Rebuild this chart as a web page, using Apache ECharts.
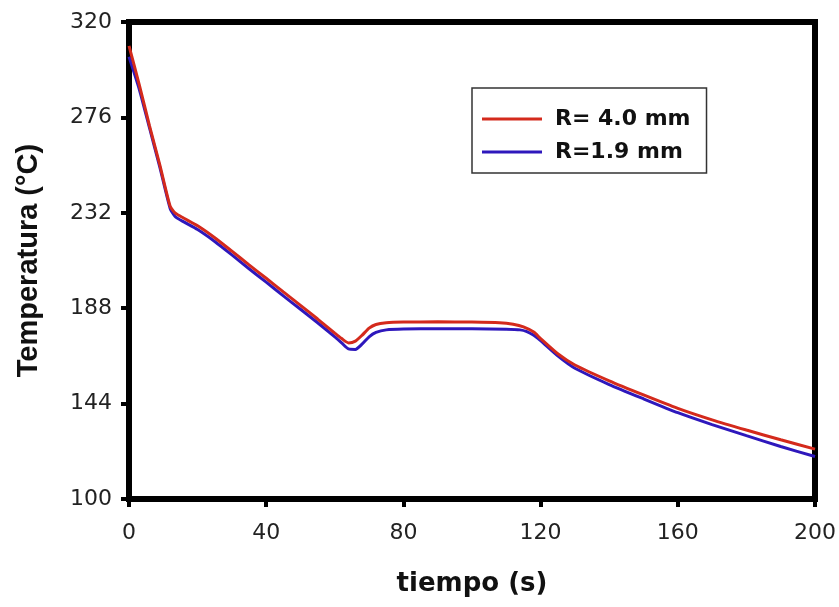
<!DOCTYPE html>
<html>
<head>
<meta charset="utf-8">
<script src="https://cdn.jsdelivr.net/npm/echarts@6/dist/echarts.min.js"></script>
<style>html,body{margin:0;padding:0;background:#fff}#c{width:839px;height:607px}</style>
</head>
<body>
<div id="c"></div>
<script>
const xTicks = [0, 40, 80, 120, 160, 200];
const yTicks = [100, 144, 188, 232, 276, 320];
const seriesNames = ['R= 4.0 mm', 'R=1.9 mm'];
const redX = [0,3,6,9,12,13.5,16,20,25,30,35,40,45,50,55,60,62,64,66,68,70,72,75,80,90,100,108,112,115,118,120,125,130,140,150,160,170,180,190,200];
const redY = [309,291,272,254,235,231.8,229.5,226,220.5,214.3,208,201.8,195.5,189.3,183,176.5,174,172,172.8,175.6,178.8,180.5,181.3,181.6,181.7,181.6,181.3,180.6,179.4,177,174,167,161.8,154.5,148,141.8,136.5,131.8,127.3,123];
const blueX = [0,3,6,9,12,13.5,16,20,25,30,35,40,45,50,55,60,62,64,66,68,70,72,75,80,90,100,110,114,116,118,120,125,130,140,150,160,170,180,190,200];
const blueY = [304,289,271,253,234,230.2,227.8,224.3,218.8,212.6,206.2,200,193.7,187.5,181.3,174.8,172,169.2,169,171.5,174.8,176.8,178,178.4,178.5,178.5,178.3,178,177.2,175.5,173,166,160.3,152.8,146.2,139.8,134.3,129.2,124.2,119.6];

const zip = (xs, ys) => xs.map((x, i) => [x, ys[i]]);
const chart = echarts.init(document.getElementById('c'));
const wide = '"DejaVu Sans", Verdana, sans-serif';
const arial = 'Arial, "Liberation Sans", sans-serif';
chart.setOption({
  animation: false,
  backgroundColor: '#fff',
  grid: { left: 129, top: 22, width: 686, height: 477, show: true, borderColor: '#000', borderWidth: 6 },
  xAxis: {
    type: 'value', min: xTicks[0], max: xTicks[xTicks.length-1], interval: 40,
    name: 'tiempo (s)', nameLocation: 'middle', nameGap: 72,
    nameTextStyle: { fontFamily: wide, fontWeight: 'bold', fontSize: 26, color: '#111' },
    axisLine: { show: true, lineStyle: { color: '#000', width: 6 } },
    axisTick: { show: true, inside: false, length: 8, lineStyle: { color: '#000', width: 4 } },
    axisLabel: { show: true, margin: 23, fontFamily: wide, fontSize: 22, color: '#222', formatter: v => xTicks.includes(v) ? String(v) : '' },
    splitLine: { show: false }
  },
  yAxis: {
    type: 'value', min: yTicks[0], max: yTicks[yTicks.length-1], interval: 44,
    name: 'Temperatura (°C)', nameLocation: 'middle', nameGap: 86,
    nameTextStyle: { fontFamily: arial, fontWeight: 'bold', fontSize: 29, color: '#111' },
    axisLine: { show: true, lineStyle: { color: '#000', width: 6 } },
    axisTick: { show: true, inside: false, length: 8, lineStyle: { color: '#000', width: 4 } },
    axisLabel: { show: true, margin: 17, fontFamily: wide, fontSize: 22, color: '#222', formatter: v => yTicks.includes(v) ? String(v) : '' },
    splitLine: { show: false }
  },
  legend: {
    left: 472, top: 88, orient: 'vertical',
    data: seriesNames,
    icon: 'rect', itemWidth: 60, itemHeight: 3, itemGap: 11,
    padding: [20, 16, 10, 10],
    borderColor: '#333', borderWidth: 1.5,
    textStyle: { fontFamily: wide, fontWeight: 'bold', fontSize: 22, color: '#111', padding: [0, 0, 0, 8] }
  },
  series: [
    { name: seriesNames[0], type: 'line', data: zip(redX, redY), showSymbol: false, smooth: 0.2,
      lineStyle: { color: '#d42a1c', width: 3 }, itemStyle: { color: '#d42a1c' }, z: 3 },
    { name: seriesNames[1], type: 'line', data: zip(blueX, blueY), showSymbol: false, smooth: 0.2,
      lineStyle: { color: '#2e18bc', width: 3 }, itemStyle: { color: '#2e18bc' }, z: 2 }
  ]
});
</script>
</body>
</html>
